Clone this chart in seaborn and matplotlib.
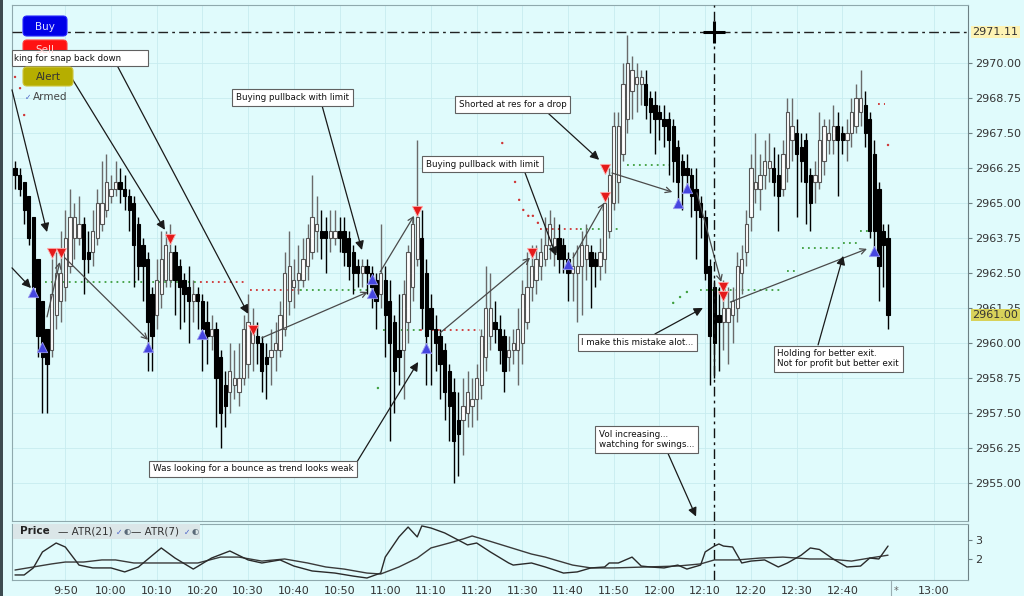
import numpy as np
import pandas as pd
import matplotlib
matplotlib.use("Agg")
import matplotlib.pyplot as plt
import seaborn as sns
from matplotlib.patches import FancyBboxPatch, Rectangle

# ---------------- data ----------------
session_start = "09:39"
opens = [
    2966.25, 2966.0, 2965.75, 2965.25, 2964.5, 2963.0, 2961.5, 2960.5, 2959.75, 2961.0,
    2961.5, 2962.0, 2962.75, 2963.75, 2963.75, 2964.25, 2963.25, 2963.25, 2963.75, 2964.25,
    2964.75, 2965.25, 2965.5, 2965.75, 2965.5, 2965.25, 2965.0, 2964.25, 2963.5, 2963.0,
    2961.75, 2961.0, 2961.75, 2962.25, 2962.25, 2963.25, 2962.75, 2962.25, 2962.0, 2961.5,
    2961.75, 2961.5, 2960.75, 2960.25, 2960.5, 2959.5, 2958.5, 2958.25, 2958.5, 2958.25,
    2958.75, 2959.25, 2960.0, 2960.25, 2960.0, 2959.5, 2959.5, 2959.75, 2959.75, 2960.5,
    2961.5, 2962.0, 2962.25, 2962.25, 2962.75, 2963.25, 2964.0, 2964.0, 2964.0, 2963.75,
    2963.75, 2964.0, 2964.0, 2963.75, 2963.25, 2962.75, 2962.5, 2962.75, 2962.5, 2962.25,
    2961.75, 2962.25, 2961.5, 2960.75, 2959.75, 2959.75, 2960.75, 2962.0, 2963.0, 2963.75,
    2962.5, 2961.25, 2960.5, 2960.25, 2959.75, 2959.0, 2958.25, 2957.25, 2957.25, 2957.5,
    2957.75, 2958.0, 2958.5, 2959.5, 2960.25, 2960.75, 2960.5, 2960.25, 2959.5, 2959.75,
    2959.75, 2960.0, 2960.75, 2962.0, 2962.25, 2962.75, 2963.0, 2963.5, 2963.25, 2963.75,
    2963.5, 2963.0, 2962.5, 2962.5, 2962.75, 2963.0, 2963.25, 2963.0, 2962.75, 2963.0,
    2964.0, 2965.0, 2965.75, 2966.75, 2968.0, 2969.0, 2969.25, 2969.25, 2969.25, 2968.75,
    2968.5, 2968.25, 2968.0, 2968.0, 2967.75, 2967.0, 2966.5, 2966.25, 2966.0, 2965.5,
    2965.0, 2964.5, 2962.75, 2962.0, 2961.0, 2960.75, 2960.75, 2961.0, 2961.25, 2962.5,
    2963.25, 2964.5, 2965.5, 2965.5, 2966.0, 2966.25, 2966.25, 2966.0, 2965.5, 2966.25,
    2967.25, 2967.5, 2967.0, 2967.25, 2966.0, 2965.75, 2965.75, 2966.5, 2967.25, 2967.25,
    2967.75, 2967.5, 2967.25, 2967.5, 2967.75, 2968.25, 2968.5, 2968.0, 2966.75, 2965.5,
    2964.0, 2963.75]
highs = [
    2966.5, 2966.25, 2965.75, 2965.25, 2964.5, 2963.0, 2961.5, 2960.5, 2963.0, 2963.25,
    2964.0, 2964.75, 2965.5, 2965.0, 2965.25, 2964.5, 2964.0, 2964.75, 2965.5, 2966.5,
    2966.75, 2966.0, 2966.5, 2966.25, 2966.0, 2965.5, 2965.25, 2964.5, 2963.75, 2963.25,
    2962.0, 2963.0, 2964.0, 2964.0, 2964.25, 2963.5, 2963.0, 2962.5, 2962.75, 2962.25,
    2962.0, 2961.75, 2961.5, 2961.0, 2960.75, 2959.75, 2959.0, 2960.0, 2959.75, 2960.0,
    2961.0, 2961.75, 2961.25, 2960.75, 2960.25, 2960.0, 2960.5, 2960.75, 2961.5, 2963.25,
    2964.0, 2963.0, 2963.5, 2963.75, 2964.25, 2966.0, 2965.25, 2964.75, 2964.5, 2964.75,
    2964.75, 2964.5, 2964.5, 2964.0, 2963.5, 2963.0, 2963.0, 2963.0, 2962.75, 2962.5,
    2964.25, 2962.75, 2962.25, 2961.0, 2961.75, 2962.25, 2963.5, 2964.5, 2967.25, 2964.75,
    2963.0, 2961.75, 2961.0, 2960.5, 2960.0, 2959.25, 2958.75, 2958.25, 2958.75, 2959.0,
    2958.75, 2959.25, 2960.5, 2962.75, 2962.5, 2961.5, 2961.0, 2960.5, 2960.25, 2960.5,
    2961.25, 2962.25, 2963.25, 2963.5, 2963.5, 2963.75, 2964.5, 2964.75, 2964.5, 2964.25,
    2963.75, 2963.25, 2963.25, 2963.5, 2964.0, 2964.25, 2963.5, 2963.25, 2963.75, 2965.25,
    2966.25, 2968.25, 2968.25, 2970.0, 2971.0, 2970.25, 2970.0, 2969.75, 2969.75, 2969.0,
    2969.0, 2968.5, 2968.5, 2968.25, 2968.0, 2967.25, 2966.75, 2966.75, 2966.25, 2966.25,
    2965.25, 2964.75, 2963.0, 2962.25, 2962.0, 2962.25, 2962.0, 2962.0, 2963.25, 2963.5,
    2964.75, 2966.75, 2967.5, 2966.75, 2967.25, 2967.5, 2967.0, 2966.75, 2967.25, 2968.75,
    2968.75, 2968.0, 2967.5, 2967.5, 2966.25, 2966.5, 2968.25, 2968.0, 2968.0, 2968.5,
    2968.25, 2967.75, 2968.0, 2968.75, 2969.25, 2969.75, 2969.0, 2968.25, 2967.25, 2965.75,
    2964.25, 2964.25]
lows = [
    2965.5, 2965.25, 2964.25, 2963.5, 2961.75, 2959.5, 2957.5, 2957.5, 2959.5, 2960.5,
    2960.75, 2961.5, 2962.5, 2963.0, 2963.5, 2961.75, 2962.5, 2962.75, 2963.5, 2964.0,
    2964.5, 2965.0, 2965.25, 2965.0, 2964.75, 2964.0, 2962.0, 2962.25, 2961.5, 2959.0,
    2959.0, 2960.5, 2961.25, 2962.0, 2962.0, 2961.0, 2960.5, 2960.75, 2960.0, 2960.75,
    2960.5, 2959.0, 2959.25, 2959.75, 2957.0, 2956.25, 2957.0, 2957.5, 2958.0, 2957.75,
    2958.5, 2958.75, 2959.0, 2959.25, 2958.25, 2958.0, 2958.5, 2959.0, 2959.5, 2960.25,
    2961.0, 2961.25, 2961.75, 2962.0, 2962.25, 2963.0, 2963.25, 2963.0, 2962.5, 2963.25,
    2963.5, 2963.25, 2962.75, 2962.25, 2961.75, 2962.0, 2962.0, 2961.75, 2961.25, 2960.5,
    2961.25, 2959.5, 2956.5, 2957.5, 2958.5, 2958.0, 2960.0, 2961.5, 2962.75, 2960.5,
    2958.5, 2958.5, 2959.0, 2958.0, 2957.25, 2956.5, 2955.0, 2955.25, 2956.0, 2957.0,
    2957.0, 2957.25, 2958.0, 2959.0, 2959.75, 2960.0, 2959.25, 2958.25, 2959.0, 2959.25,
    2958.5, 2959.25, 2960.5, 2961.5, 2961.75, 2962.25, 2962.75, 2963.0, 2962.75, 2962.5,
    2962.5, 2961.5, 2961.5, 2960.75, 2961.0, 2962.25, 2961.25, 2962.0, 2962.25, 2962.5,
    2963.75, 2964.75, 2965.0, 2966.5, 2967.5, 2968.0, 2968.25, 2968.5, 2968.0, 2967.5,
    2966.75, 2967.25, 2967.0, 2966.0, 2965.75, 2965.0, 2964.75, 2965.5, 2964.5, 2963.0,
    2963.75, 2962.25, 2958.5, 2958.75, 2959.0, 2959.75, 2959.25, 2960.0, 2960.75, 2961.75,
    2962.75, 2964.0, 2965.0, 2964.75, 2965.5, 2965.75, 2965.25, 2964.0, 2965.25, 2965.75,
    2966.5, 2964.5, 2965.75, 2964.25, 2964.0, 2965.0, 2965.5, 2966.0, 2966.75, 2966.75,
    2965.25, 2966.75, 2966.5, 2967.0, 2967.5, 2967.75, 2967.0, 2963.75, 2963.25, 2961.5,
    2962.0, 2960.5]
closes = [
    2966.0, 2965.5, 2964.75, 2963.75, 2962.0, 2960.25, 2959.5, 2959.25, 2961.75, 2962.5,
    2962.5, 2963.75, 2964.5, 2964.5, 2964.25, 2963.0, 2963.0, 2964.0, 2965.0, 2965.0,
    2965.75, 2965.5, 2965.75, 2965.5, 2965.25, 2964.75, 2963.5, 2962.75, 2962.75, 2960.75,
    2960.25, 2962.25, 2963.0, 2963.5, 2963.25, 2962.25, 2962.0, 2961.75, 2961.5, 2961.75,
    2961.5, 2960.5, 2960.25, 2960.5, 2958.75, 2957.5, 2957.75, 2959.0, 2958.75, 2958.75,
    2960.5, 2960.75, 2960.5, 2960.0, 2959.0, 2959.25, 2959.75, 2960.0, 2961.0, 2962.5,
    2962.75, 2962.25, 2962.5, 2963.0, 2963.75, 2964.5, 2964.25, 2963.75, 2963.75, 2964.0,
    2964.0, 2963.75, 2963.25, 2962.75, 2962.5, 2962.5, 2962.75, 2962.5, 2962.0, 2961.5,
    2962.5, 2961.0, 2960.0, 2959.0, 2959.5, 2961.75, 2963.25, 2964.25, 2964.5, 2961.25,
    2960.25, 2960.5, 2960.0, 2959.25, 2958.25, 2957.75, 2956.5, 2956.75, 2957.75, 2958.25,
    2958.0, 2958.75, 2960.25, 2961.25, 2961.25, 2960.5, 2959.75, 2959.0, 2959.75, 2960.0,
    2960.5, 2961.75, 2962.0, 2962.75, 2963.0, 2963.25, 2963.5, 2964.25, 2963.75, 2963.0,
    2963.0, 2962.5, 2962.75, 2962.75, 2963.5, 2963.5, 2962.75, 2962.75, 2963.25, 2965.0,
    2966.0, 2967.75, 2967.75, 2969.25, 2970.0, 2969.75, 2969.5, 2969.5, 2968.5, 2968.25,
    2968.0, 2968.0, 2967.75, 2967.25, 2966.5, 2965.75, 2966.0, 2966.0, 2965.25, 2964.75,
    2964.5, 2962.5, 2960.25, 2960.0, 2960.75, 2961.25, 2961.25, 2961.5, 2962.75, 2963.0,
    2964.25, 2966.25, 2965.75, 2966.0, 2966.5, 2966.5, 2965.75, 2965.25, 2966.75, 2968.25,
    2967.75, 2966.75, 2966.5, 2965.75, 2965.0, 2966.0, 2967.25, 2967.75, 2967.5, 2967.75,
    2967.25, 2967.25, 2967.5, 2968.25, 2968.75, 2968.75, 2967.5, 2964.0, 2964.0, 2962.75,
    2963.5, 2961.0]

time_labels = ["9:50", "10:00", "10:10", "10:20", "10:30", "10:40", "10:50", "11:00",
               "11:10", "11:20", "11:30", "11:40", "11:50", "12:00", "12:10", "12:20",
               "12:30", "12:40", "13:00"]
price_ticks = [2955.00, 2956.25, 2957.50, 2958.75, 2960.00, 2961.25, 2962.50, 2963.75,
               2965.00, 2966.25, 2967.50, 2968.75, 2970.00]
crosshair_price = 2971.11
last_price = 2961.00
crosshair_bar = 153

# ATR study (bar index, value)
atr7_idx = [0, 2, 4, 6, 9, 11, 14, 17, 21, 24, 27, 32, 35, 39, 43, 47, 51, 54, 58, 61,
            65, 70, 74, 77, 80, 81, 84, 86, 88, 89, 91, 94, 99, 101, 104, 108, 109, 113,
            116, 120, 123, 126, 129, 130, 132, 135, 137, 139, 142, 145, 147, 150, 151,
            153, 154, 155, 157, 159, 161, 164, 167, 169, 172, 174, 176, 179, 182, 185,
            187, 189, 191]
atr7_val = [1.16, 1.16, 1.53, 2.37, 2.84, 2.63, 1.68, 1.53, 1.53, 1.32, 1.58, 2.58, 2.05,
            1.47, 2.05, 2.42, 1.95, 1.79, 1.95, 1.63, 1.37, 1.26, 1.10, 1.00, 1.26, 2.10,
            3.16, 3.68, 3.16, 3.74, 3.63, 3.37, 2.74, 2.84, 2.37, 1.79, 1.68, 1.79, 1.58,
            1.26, 1.32, 1.53, 1.58, 1.79, 1.79, 2.10, 1.63, 1.58, 1.53, 1.68, 1.47, 1.68,
            2.37, 2.68, 2.79, 2.68, 2.63, 1.79, 1.89, 1.95, 1.58, 1.79, 2.20, 2.58, 2.50,
            2.00, 1.58, 1.63, 2.05, 2.00, 2.68]
atr21_idx = [0, 4, 8, 11, 15, 19, 22, 26, 30, 35, 40, 45, 49, 54, 59, 64, 68, 72, 77, 80,
             84, 88, 91, 95, 98, 100, 103, 108, 113, 116, 122, 126, 131, 138, 145, 150,
             153, 158, 163, 168, 174, 178, 183, 187, 191]
atr21_val = [1.42, 1.58, 1.74, 1.84, 1.84, 1.95, 1.95, 1.79, 1.79, 1.79, 1.79, 2.10, 2.10,
             1.89, 2.00, 1.79, 1.58, 1.47, 1.26, 1.21, 1.58, 2.05, 2.58, 2.84, 3.05, 3.21,
             3.00, 2.63, 2.26, 2.10, 1.68, 1.53, 1.53, 1.58, 1.63, 1.74, 1.95, 1.95, 2.05,
             2.10, 2.00, 2.00, 1.89, 2.05, 2.20]

# trade signals (bar index, price)
buy_idx = [4, 6, 29, 41, 78, 78, 90, 121, 145, 147, 188]
buy_px = [2961.82, 2959.86, 2959.86, 2960.32, 2962.30, 2961.80, 2959.82, 2962.82,
          2965.00, 2965.55, 2963.30]
sell_idx = [8, 10, 34, 52, 88, 113, 129, 129, 155, 155]
sell_px = [2963.20, 2963.20, 2963.70, 2960.45, 2964.70, 2963.20, 2966.20, 2965.20,
           2962.00, 2961.68]

# stop / target levels: (from bar, to bar, price, colour)
level_segments = [
    (6.6, 40.5, 2962.18, "g"), (40.5, 50.8, 2962.18, "r"), (51.4, 62.4, 2961.89, "r"),
    (62.4, 77.7, 2961.89, "g"), (80.5, 88.6, 2960.46, "g"), (88.6, 101.8, 2960.46, "r"),
    (114.9, 123.7, 2964.07, "r"), (123.7, 132.4, 2964.07, "g"), (133.9, 143.3, 2966.36, "g"),
    (149.9, 167.4, 2961.89, "g"), (168.9, 171.3, 2962.57, "g"), (172.2, 181.2, 2963.39, "g"),
    (181.2, 184.2, 2963.57, "g"), (184.9, 187.1, 2964.00, "g"), (188.8, 190.4, 2968.54, "r")]
dot_x = [0.0, 1.1, 2.0, 106.6, 109.4, 110.3, 111.2, 112.3, 113.3, 114.4, 191.0,
         79.4, 144.0, 145.5, 147.0]
dot_y = [2969.5, 2969.1, 2968.14, 2967.14, 2965.75, 2965.11, 2964.75, 2964.54, 2964.54,
         2964.29, 2967.07, 2958.39, 2961.43, 2961.64, 2961.82]
dot_c = ["r"] * 11 + ["g"] * 4

# trade links (entry -> exit) drawn as thin arrows
trade_links = [((10.9, 2963.04), (29.1, 2960.11)), ((7.0, 2960.93), (9.8, 2962.89)),
               ((54.0, 2960.18), (77.2, 2961.82)), ((79.9, 2962.54), (87.3, 2964.54)),
               ((93.0, 2960.36), (112.7, 2963.04)), ((122.1, 2963.04), (128.9, 2965.00)),
               ((130.6, 2966.07), (143.8, 2965.39)), ((149.2, 2965.36), (154.5, 2962.18)),
               ((156.5, 2961.46), (186.4, 2963.36))]

# comments: (text, x, y, horizontal alignment)
notes = [("Buying pullback with limit", 60.7, 2968.77, "center"),
         ("Buying pullback with limit", 102.3, 2966.38, "center"),
         ("Shorted at res for a drop", 108.9, 2968.52, "center"),
         ("I make this mistake alot...", 136.2, 2960.02, "center"),
         ("Holding for better exit.\nNot for profit but better exit", 166.8, 2959.43, "left"),
         ("Vol increasing...\nwatching for swings...", 127.7, 2956.55, "left"),
         ("Was looking for a bounce as trend looks weak", 52.1, 2955.50, "center")]
note_arrows = [((10.9, 2969.86), (32.8, 2964.04)), ((22.5, 2969.86), (51.0, 2961.04)),
               ((-0.66, 2969.04), (7.0, 2963.96)), ((-0.66, 2962.68), (3.5, 2961.96)),
               ((67.2, 2968.46), (75.9, 2963.32)), ((111.6, 2966.07), (118.4, 2963.11)),
               ((116.6, 2968.21), (127.8, 2966.54)), ((140.0, 2960.32), (150.5, 2961.25)),
               ((175.7, 2959.93), (181.2, 2963.11)), ((142.9, 2956.04), (149.0, 2953.80)),
               ((74.4, 2955.64), (88.2, 2959.32))]

# ---------------- style ----------------
sns.set_theme(style="white")
plt.rcParams["font.family"] = ["DejaVu Sans"]
BG = "#e0fbfc"
GRID = "#c7ecf0"
SPINE = "#8fa9ad"
TXT = "#333333"
COL = {"g": "#3f9f3f", "r": "#cf3434"}

fig = plt.figure(figsize=(10.24, 5.96), dpi=100)
fig.patch.set_facecolor(BG)
W, H = 1024.0, 596.0
ax = fig.add_axes([12 / W, 1 - 521 / H, (968 - 12) / W, (521 - 5) / H])
ax2 = fig.add_axes([12 / W, 1 - 580 / H, (968 - 12) / W, (580 - 524) / H], sharex=ax)
for a in (ax, ax2):
    a.set_facecolor(BG)
    for s in a.spines.values():
        s.set_color(SPINE)
        s.set_linewidth(0.8)
    a.spines["right"].set_color("#6d8084")

t0 = pd.Timestamp("2019-01-01 " + session_start)
tick_pos = [(pd.Timestamp("2019-01-01 " + t) - t0).total_seconds() / 60 for t in time_labels]

# ---------------- candles ----------------
o = np.array(opens); h = np.array(highs); l = np.array(lows); c = np.array(closes)
x = np.arange(len(o))
up = c >= o
ax.vlines(x[up], l[up], h[up], color="#6a6a6a", lw=1.0, zorder=2)
ax.vlines(x[~up], l[~up], h[~up], color="black", lw=1.0, zorder=2)
bb = np.minimum(o, c)
bh = np.maximum(np.abs(c - o), 0.07)
ax.bar(x[up], bh[up], bottom=bb[up], width=0.72, color="white", edgecolor="#555555",
       linewidth=0.8, zorder=3)
ax.bar(x[~up], bh[~up], bottom=bb[~up], width=0.72, color="black", edgecolor="black",
       linewidth=0.8, zorder=3)

# levels
for x0, x1, p, cc in level_segments:
    ax.plot([x0, x1], [p, p], color=COL[cc], lw=1.3, linestyle=(0, (1, 2.3)), zorder=1.5)
ax.scatter(dot_x, dot_y, s=3, c=[COL[k] for k in dot_c], zorder=1.5, linewidths=0)

# trade links
for (xa, ya), (xb, yb) in trade_links:
    ax.annotate("", xy=(xb, yb), xytext=(xa, ya),
                arrowprops=dict(arrowstyle="->", color="#4a4a4a", lw=0.9,
                                mutation_scale=10, shrinkA=0, shrinkB=0), zorder=4)

# signal triangles
sns.scatterplot(x=buy_idx, y=buy_px, marker="^", s=55, color="#4646e0",
                edgecolor="#9b9bf0", linewidth=0.6, ax=ax, zorder=5)
sns.scatterplot(x=sell_idx, y=sell_px, marker="v", s=55, color="#e41a1a",
                edgecolor="#ffb0b0", linewidth=0.6, ax=ax, zorder=5)

# crosshair
ax.axhline(crosshair_price, color="#222222", lw=1.0, dashes=(7, 3, 2, 3), zorder=4)
for a in (ax, ax2):
    a.axvline(crosshair_bar, color="#111111", lw=1.0, dashes=(7, 3, 2, 3), zorder=4)
ax.plot([crosshair_bar], [crosshair_price], marker="+", ms=16, mew=2.2, color="black", zorder=6)

# comments
for (xa, ya), (xb, yb) in note_arrows:
    ax.annotate("", xy=(xb, yb), xytext=(xa, ya),
                arrowprops=dict(arrowstyle="-|>", color="#1a1a1a", lw=0.9,
                                mutation_scale=13, shrinkA=0, shrinkB=0), zorder=6)
for txt, tx, ty, ha in notes:
    ax.text(tx, ty, txt, ha=ha, va="center", fontsize=6.3, color="#111111", zorder=7,
            linespacing=1.15,
            bbox=dict(boxstyle="square,pad=0.42", fc="white", ec="#606060", lw=0.8))

# axes formatting
ax.set_xlim(-0.66, 208.5)
ax.set_ylim(2953.64, 2972.07)
ax.yaxis.tick_right()
ax.set_yticks(price_ticks)
ax.set_yticklabels([f"{v:.2f}" for v in price_ticks])
ax.tick_params(axis="y", length=3, width=0.8, color="#6d8084", pad=2, labelsize=8,
               labelcolor=TXT)
ax.tick_params(axis="x", length=0, labelbottom=False)
ax.set_xticks(tick_pos)
ax.grid(True, color=GRID, lw=0.6)
ax.set_axisbelow(True)
ax.set_xlabel(""); ax.set_ylabel("")

ytr = ax.get_yaxis_transform()
ax.text(1.0 + 4.5 / 956, crosshair_price, f"{crosshair_price:.2f}", transform=ytr,
        ha="left", va="center", fontsize=8, color=TXT, zorder=8, clip_on=False,
        bbox=dict(boxstyle="square,pad=0.12", fc="#fdf3b4", ec="none"))
ax.text(1.0 + 4.5 / 956, last_price, f"{last_price:.2f}", transform=ytr,
        ha="left", va="center", fontsize=8, color=TXT, zorder=8, clip_on=False,
        bbox=dict(boxstyle="square,pad=0.12", fc="#d8d25a", ec="none"))

# ---------------- ATR panel ----------------
df7 = pd.DataFrame({"bar": atr7_idx, "atr": atr7_val})
df21 = pd.DataFrame({"bar": atr21_idx, "atr": atr21_val})
sns.lineplot(data=df21, x="bar", y="atr", ax=ax2, color="#3a3a3a", lw=1.0, legend=False)
sns.lineplot(data=df7, x="bar", y="atr", ax=ax2, color="#2a2a2a", lw=1.0, legend=False)
ax2.set_ylim(0.895, 3.84)
ax2.yaxis.tick_right()
ax2.set_yticks([2, 3])
ax2.tick_params(axis="y", length=3, width=0.8, color="#6d8084", pad=2, labelsize=8,
                labelcolor=TXT)
ax2.set_xticks(tick_pos)
ax2.set_xticklabels(time_labels)
ax2.tick_params(axis="x", length=0, pad=4, labelsize=8, labelcolor=TXT)
ax2.grid(True, axis="x", color=GRID, lw=0.6)
ax2.set_xlabel(""); ax2.set_ylabel("")
ax2.set_xlim(-0.66, 208.5)

# ---------------- overlay UI (pixel space) ----------------
ov = fig.add_axes([0, 0, 1, 1], zorder=10)
ov.set_xlim(0, W); ov.set_ylim(H, 0); ov.axis("off"); ov.patch.set_alpha(0)
ov.add_patch(Rectangle((0, 0), 3, H, fc="#3d4b50", ec="none"))
ov.add_patch(FancyBboxPatch((23, 16), 44, 20, boxstyle="round,pad=0,rounding_size=4",
                            fc="#0000e8", ec="#2a2aff", lw=0.8))
ov.text(45, 26.5, "Buy", ha="center", va="center", fontsize=7.5, color="#dfe2ff")
ov.add_patch(FancyBboxPatch((23, 40), 44, 20, boxstyle="round,pad=0,rounding_size=4",
                            fc="#ff1212", ec="#ff4040", lw=0.8))
ov.text(45, 50, "Sell", ha="center", va="center", fontsize=7.5, color="#ffd6d6")
ov.add_patch(Rectangle((12, 50), 136, 16, fc="white", ec="#606060", lw=0.8))
ov.text(14, 58.5, "king for snap back down", ha="left", va="center", fontsize=6.3,
        color="#111111")
ov.add_patch(FancyBboxPatch((23, 67), 50, 19, boxstyle="round,pad=0,rounding_size=4",
                            fc="#b6ae00", ec="#cfc640", lw=0.8))
ov.text(48, 76.5, "Alert", ha="center", va="center", fontsize=7.5, color="#333333")
ov.text(25, 97, "\u2713", ha="left", va="center", fontsize=5.5, color="#4a62c8")
ov.text(33, 97.5, "Armed", ha="left", va="center", fontsize=7.5, color="#444444")

# ATR legend strip
ov.add_patch(Rectangle((13, 524), 187, 15, fc="#dbe6e8", ec="none"))
ov.text(20, 531.5, "Price", ha="left", va="center", fontsize=7.5, color="#222222",
        fontweight="bold")
ov.text(58, 531.5, "\u2014 ATR(21)", ha="left", va="center", fontsize=7.5, color="#333333")
ov.text(116, 532, "\u2713", ha="left", va="center", fontsize=5.5, color="#4a62c8")
ov.text(124, 531.5, "\u25d0", ha="left", va="center", fontsize=6, color="#5a6a78")
ov.text(131, 531.5, "\u2014 ATR(7)", ha="left", va="center", fontsize=7.5, color="#333333")
ov.text(184, 532, "\u2713", ha="left", va="center", fontsize=5.5, color="#4a62c8")
ov.text(192, 531.5, "\u25d0", ha="left", va="center", fontsize=6, color="#5a6a78")
ov.plot([891, 891], [581, 596], color="#9aaeb2", lw=0.8)
ov.text(896, 591, "*", ha="center", va="center", fontsize=7, color="#666666")

fig.savefig("out.png", dpi=100, facecolor=BG)
